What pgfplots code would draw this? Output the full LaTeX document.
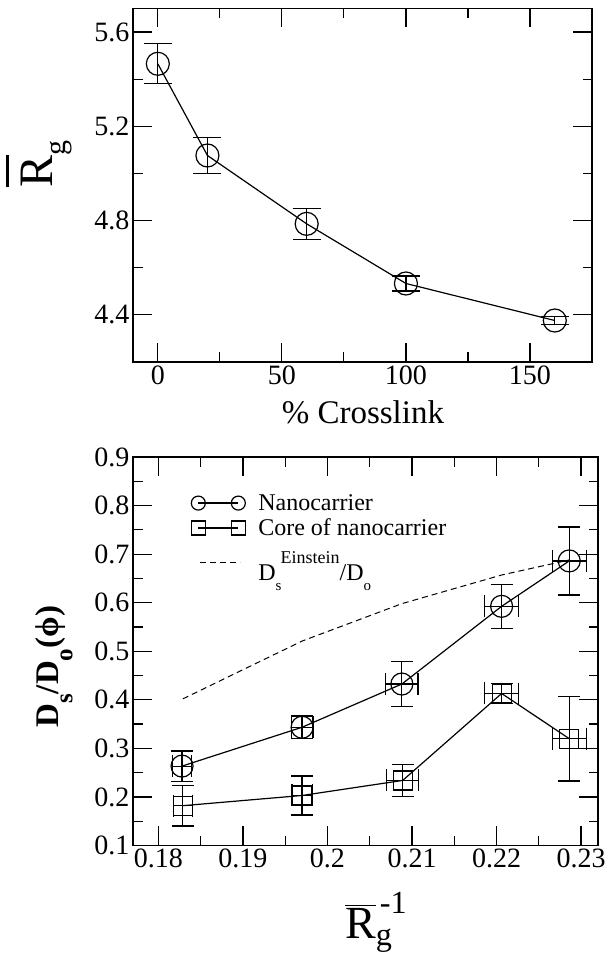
\documentclass[border=0pt]{standalone}
\usepackage{pgfplots}
\pgfplotsset{compat=1.18}
\usepackage{amsmath}
\usepackage{fontspec}
\setmainfont{Liberation Serif}

\pgfplotstableread{
x y e
0 5.465 0.085
20 5.076 0.075
60 4.786 0.065
100 4.533 0.032
160 4.376 0.018
}\rgtable

\pgfplotstableread{
x y ex ey
0.1828 0.2635 0.0011 0.031
0.1970 0.3435 0.0013 0.023
0.2088 0.4325 0.0019 0.046
0.2206 0.5925 0.0020 0.045
0.2286 0.6860 0.0020 0.070
}\nanotable

\pgfplotstableread{
x y ex ey
0.1829 0.182 0.0011 0.042
0.1970 0.203 0.0012 0.040
0.2089 0.234 0.0019 0.033
0.2206 0.413 0.0020 0.021
0.2286 0.320 0.0020 0.087
}\coretable

\pgfplotstableread{
x y
0.1829 0.402
0.1970 0.521
0.2088 0.598
0.2206 0.657
0.2286 0.688
}\einsteintable

\pgfplotsset{
  twomarks legend/.style={legend image code/.code={\draw[##1, mark size=7pt, mark repeat=2, mark phase=1] plot coordinates {(0pt,0pt) (20pt,0pt) (40pt,0pt)};}},
  dash legend/.style={legend image code/.code={\draw[##1] (2pt,0pt) -- (42pt,0pt);}},
}

\begin{document}
\begin{tikzpicture}
\useasboundingbox (0,0) rectangle (612pt,957pt);
\pgfplotsset{
  every axis/.append style={
    scale only axis,
    axis line style={line width=1.3pt},
    every tick/.style={line width=1.2pt, black},
    tick align=inside,
    xtick pos=both, ytick pos=both,
    major tick length=19pt,
    minor tick length=9.5pt,
    /pgf/number format/assume math mode=true,
    tick label style={font=\fontsize{28}{28}\selectfont},
  },
}
% ---------------- (a) ----------------
\begin{axis}[
  at={(133pt,595pt)}, anchor=south west,
  width=459pt, height=353.6pt,
  xmin=-10, xmax=175, ymin=4.2, ymax=5.7,
  xtick={0,50,100,150}, minor xtick={25,75,125},
  ytick={4.4,4.8,5.2,5.6}, minor ytick={4.6,5.0,5.4},
  xlabel={\% Crosslink},
  xlabel style={font=\fontsize{33}{33}\selectfont, at={(0.501,-0.141)}, anchor=center},
  ylabel={\rlap{\raisebox{44pt}{\rule{32pt}{3pt}}}R\raisebox{-13pt}{\fontsize{30}{30}\selectfont g}},
  ylabel style={font=\fontsize{48}{48}\selectfont, at={(-0.205,0.56)}, anchor=center},
]
\addplot[black, line width=1.2pt, mark=o, mark size=11.5pt,
  mark options={solid, line width=1.2pt},
  error bars/.cd, y dir=both, y explicit, error mark=|,
  error bar style={line width=1.2pt},
  error mark options={line width=1.2pt, mark size=14pt}]
  table[x=x, y=y, y error=e] {\rgtable};
\node[font=\fontsize{36}{36}\selectfont] at (rel axis cs:-0.19,-0.045) {(a)};
\end{axis}
% ---------------- (b) ----------------
\begin{axis}[
  at={(133pt,111.5pt)}, anchor=south west,
  width=465pt, height=388.5pt,
  xmin=0.177, xmax=0.232, ymin=0.1, ymax=0.9,
  xtick={0.18,0.19,0.2,0.21,0.22,0.23},
  minor xtick={0.185,0.195,0.205,0.215,0.225},
  ytick={0.1,0.2,0.3,0.4,0.5,0.6,0.7,0.8,0.9},
  minor ytick={0.15,0.25,0.35,0.45,0.55,0.65,0.75,0.85},
  xticklabel style={/pgf/number format/.cd, fixed, precision=2},
  yticklabel style={/pgf/number format/.cd, fixed, precision=1},
  xlabel={$\overline{\text{R}}_{\text{g}}^{\,\text{-1}}$},
  xlabel style={font=\fontsize{46}{46}\selectfont, at={(0.523,-0.197)}, anchor=center},
  ylabel={\textbf{D\raisebox{-14pt}{\fontsize{25}{25}\selectfont s}/D\raisebox{-14pt}{\fontsize{25}{25}\selectfont o}(ϕ)}},
  ylabel style={font=\fontsize{33}{33}\selectfont, at={(-0.17,0.46)}, anchor=center},
  legend style={draw=none, fill=none, at={(0.125,0.912)}, anchor=north west,
    font=\fontsize{24}{24}\selectfont, row sep=1pt, column sep=10pt, inner sep=0pt,
    nodes={inner sep=3pt}},
  legend cell align=left,
]
\addplot[black, line width=1.2pt, mark=o, mark size=11pt,
  mark options={solid, line width=1.2pt}, twomarks legend,
  error bars/.cd, x dir=both, x explicit, y dir=both, y explicit, error mark=|,
  error bar style={line width=1.2pt},
  error mark options={line width=1.2pt, mark size=11pt}]
  table[x=x, y=y, x error=ex, y error=ey] {\nanotable};
\addlegendentry{Nanocarrier}
\addplot[black, line width=1.2pt, mark=square, mark size=9.5pt,
  mark options={solid, line width=1.2pt}, twomarks legend,
  error bars/.cd, x dir=both, x explicit, y dir=both, y explicit, error mark=|,
  error bar style={line width=1.2pt},
  error mark options={line width=1.2pt, mark size=11pt}]
  table[x=x, y=y, x error=ex, y error=ey] {\coretable};
\addlegendentry{Core of nanocarrier}
\addplot[black, line width=1pt, dash pattern=on 6pt off 4pt, dash legend]
  table[x=x, y=y] {\einsteintable};
\addlegendentry{\rule{0pt}{36pt}D\rlap{\raisebox{-10pt}{\fontsize{15}{15}\selectfont s}}\hspace{5pt}\raisebox{17pt}{\fontsize{18}{18}\selectfont Einstein}/D\raisebox{-10pt}{\fontsize{15}{15}\selectfont o}}
\node[font=\fontsize{36}{36}\selectfont] at (rel axis cs:-0.19,-0.093) {(b)};
\end{axis}
\end{tikzpicture}
\end{document}
